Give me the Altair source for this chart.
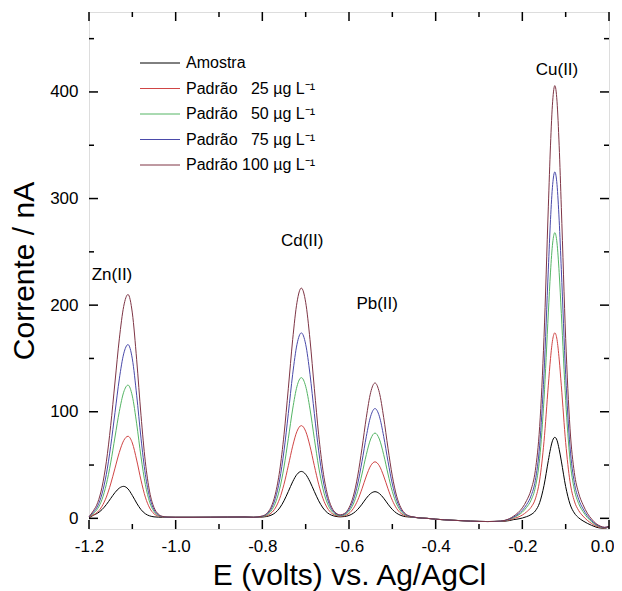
import altair as alt
import pandas as pd

# Potential (V vs Ag/AgCl)
E = [-1.20, -1.19, -1.18, -1.17, -1.16, -1.15, -1.14, -1.13, -1.12, -1.11,
     -1.10, -1.09, -1.08, -1.07, -1.06, -1.05, -1.04, -1.03, -1.02, -1.00,
     -0.96, -0.92, -0.88, -0.84,
     -0.82, -0.80, -0.79, -0.78, -0.77, -0.76, -0.75, -0.74, -0.73, -0.72,
     -0.71, -0.70, -0.69, -0.68, -0.67, -0.66, -0.65, -0.64, -0.63,
     -0.62, -0.61, -0.60, -0.59, -0.58, -0.57, -0.56, -0.55, -0.54, -0.53,
     -0.52, -0.51, -0.50, -0.49, -0.48, -0.47, -0.46, -0.45, -0.44,
     -0.42, -0.40, -0.36, -0.32, -0.28, -0.25, -0.23,
     -0.22, -0.21, -0.20, -0.19, -0.18, -0.17, -0.16, -0.15, -0.14, -0.135,
     -0.13, -0.125, -0.12, -0.115, -0.11, -0.10, -0.09, -0.08, -0.07, -0.06,
     -0.05, -0.04, -0.03, -0.02, -0.01, 0.00]

# Current (nA)
amostra = [0.5, 2.9, 4.9, 8.2, 12.9, 18.6, 24.2, 28.4, 30.0, 27.6,
           21.5, 14.3, 8.2, 4.3, 2.3, 1.4, 1.1, 1.0, 1.0, 1.0,
           1.0, 1.0, 1.1, 1.1,
           1.0, 1.2, 1.7, 2.9, 5.3, 9.7, 16.5, 25.2, 34.3, 41.3,
           44.0, 41.3, 34.3, 25.2, 16.5, 9.7, 5.3, 2.9, 1.8,
           1.4, 1.7, 2.7, 4.8, 8.3, 13.3, 18.9, 23.3, 25.0, 23.3,
           18.9, 13.3, 8.3, 4.8, 2.7, 1.6, 1.2, 0.9, 0.5,
           0.0, -0.8, -1.8, -2.6, -3.0, -2.9, -2.1,
           -1.2, -0.6, 0.3, 1.6, 3.5, 7.0, 14.8, 30.8, 54.2, 65.3,
           73.2, 76.0, 73.2, 64.8, 53.7, 29.8, 13.4, 5.0, 0.5, -2.4,
           -4.7, -6.6, -8.2, -9.1, -9.3, -7.9]

p25 = [1.0, 3.2, 6.0, 11.3, 19.9, 32.2, 47.1, 61.9, 72.9, 77.0,
       70.7, 54.7, 35.8, 19.9, 9.7, 4.3, 2.1, 1.3, 1.1, 1.0,
       1.0, 1.1, 1.2, 1.3,
       1.0, 1.5, 2.5, 4.8, 9.7, 18.5, 32.0, 49.4, 67.7, 81.7,
       87.0, 81.7, 67.7, 49.4, 32.0, 18.5, 9.7, 4.8, 2.6,
       2.0, 2.5, 4.6, 9.2, 16.9, 27.7, 39.7, 49.3, 53.0, 49.3,
       39.7, 27.7, 16.9, 9.2, 4.6, 2.4, 1.5, 1.0, 0.5,
       0.0, -0.8, -1.8, -2.6, -3.0, -2.8, -1.5,
       -0.2, 1.1, 3.1, 6.1, 10.3, 18.2, 36.0, 72.1, 124.9, 149.9,
       167.7, 174.0, 167.7, 149.4, 124.4, 71.1, 34.5, 16.2, 7.3, 2.1,
       -1.9, -4.9, -7.2, -8.6, -9.0, -7.8]

p50 = [1.2, 4.5, 9.1, 17.7, 31.9, 52.0, 76.3, 100.3, 118.3, 125.0,
       114.7, 88.7, 57.8, 31.9, 15.1, 6.4, 2.8, 1.5, 1.1, 1.0,
       1.0, 1.1, 1.2, 1.3,
       1.0, 1.7, 3.2, 6.8, 14.2, 27.6, 48.2, 74.8, 102.5, 123.9,
       132.0, 123.9, 102.5, 74.8, 48.2, 27.6, 14.2, 6.8, 3.4,
       2.4, 3.3, 6.6, 13.4, 25.2, 41.6, 59.8, 74.4, 80.0, 74.4,
       59.8, 41.6, 25.2, 13.4, 6.5, 3.1, 1.7, 1.0, 0.5,
       0.0, -0.8, -1.8, -2.6, -3.0, -2.6, -1.0,
       0.7, 2.8, 5.8, 10.4, 16.9, 29.1, 56.3, 111.7, 192.7, 231.0,
       258.3, 268.0, 258.3, 230.5, 192.2, 110.7, 54.8, 27.1, 13.9, 6.4,
       0.8, -3.2, -6.3, -8.0, -8.8, -7.6]

p75 = [1.4, 5.6, 11.6, 22.9, 41.3, 67.6, 99.3, 130.8, 154.3, 163.0,
       149.6, 115.5, 75.2, 41.3, 19.5, 8.1, 3.3, 1.6, 1.1, 1.0,
       1.0, 1.1, 1.2, 1.3,
       1.0, 2.0, 3.9, 8.6, 18.5, 36.1, 63.3, 98.4, 135.1, 163.3,
       174.0, 163.3, 135.1, 98.4, 63.3, 36.1, 18.5, 8.6, 4.2,
       2.9, 4.0, 8.2, 17.0, 32.2, 53.4, 76.9, 95.8, 103.0, 95.8,
       76.9, 53.4, 32.2, 17.0, 8.1, 3.7, 1.9, 1.1, 0.5,
       0.0, -0.8, -1.8, -2.6, -3.0, -2.6, -0.7,
       1.3, 3.8, 7.5, 13.0, 20.9, 35.6, 68.6, 135.7, 233.8, 280.2,
       313.2, 325.0, 313.2, 279.7, 233.3, 134.7, 67.1, 33.6, 17.9, 9.0,
       2.5, -2.2, -5.7, -7.7, -8.6, -7.6]

p100 = [1.6, 7.0, 14.7, 29.2, 53.0, 86.9, 127.9, 168.4, 198.7, 210.0,
        192.7, 148.8, 96.7, 53.0, 24.8, 10.2, 4.0, 1.8, 1.2, 1.0,
        1.0, 1.1, 1.2, 1.3,
        1.0, 2.2, 4.6, 10.4, 22.7, 44.6, 78.4, 122.0, 167.6, 202.7,
        216.0, 202.7, 167.6, 122.0, 78.4, 44.6, 22.7, 10.4, 4.9,
        3.3, 4.7, 9.9, 20.8, 39.6, 65.8, 94.7, 118.1, 127.0, 118.1,
        94.7, 65.8, 39.6, 20.8, 9.8, 4.4, 2.1, 1.2, 0.5,
        0.0, -0.8, -1.8, -2.6, -3.0, -2.5, -0.3,
        2.1, 5.3, 9.8, 16.8, 26.6, 44.9, 86.1, 169.8, 292.2, 350.1,
        391.3, 406.0, 391.3, 349.6, 291.7, 168.8, 84.6, 42.9, 23.6, 12.8,
        4.8, -0.7, -4.9, -7.3, -8.4, -7.5]

series = ["Amostra",
          "Padrão \u200725 \u00b5g L\u207b\u00b9",
          "Padrão \u200750 \u00b5g L\u207b\u00b9",
          "Padrão \u200775 \u00b5g L\u207b\u00b9",
          "Padrão 100 \u00b5g L\u207b\u00b9"]
values = [amostra, p25, p50, p75, p100]
colors = ["#000000", "#d04545", "#55b565", "#4a4aaa", "#7e3545"]

peak_names = ["Zn(II)", "Cd(II)", "Pb(II)", "Cu(II)"]
peak_E = [-1.147, -0.708, -0.535, -0.12]
peak_I = [228, 260, 201, 421]

x_major = [-1.2, -1.0, -0.8, -0.6, -0.4, -0.2, 0.0]
x_minor = [-1.1, -0.9, -0.7, -0.5, -0.3, -0.1]
y_major = [0, 100, 200, 300, 400]
y_minor = [50, 150, 250, 350, 450]

W, H = 520, 517
FONT = "Liberation Sans"

rows = []
for name, vals in zip(series, values):
    for e, i in zip(E, vals):
        rows.append({"E": e, "I": i, "s": name})
df = pd.DataFrame(rows)

xs = alt.Scale(domain=[-1.2, 0.0], nice=False, zero=False)
ys = alt.Scale(domain=[-10, 475], nice=False, zero=False)

lines = alt.Chart(df).mark_line(strokeWidth=1, interpolate="monotone").encode(
    x=alt.X("E:Q", scale=xs,
            axis=alt.Axis(values=x_major,
                          labelExpr="replace(format(datum.value, '.1f'), '\u2212', '-')",
                          title="E (volts) vs. Ag/AgCl", labelFlush=False,
                          labelAlign=alt.condition("datum.value == 0",
                                                   alt.value("right"), alt.value("center")),
                          labelOffset=alt.condition("datum.value == 0",
                                                    alt.value(5), alt.value(0)),
                          labelFontSize=17, titleFontSize=30, labelPadding=9,
                          titlePadding=6, labelFont=FONT, titleFont=FONT,
                          titleFontWeight="normal", ticks=False, domain=False,
                          grid=False, labelColor="black", titleColor="black")),
    y=alt.Y("I:Q", scale=ys,
            axis=alt.Axis(values=y_major, title="Corrente / nA", labelFlush=False,
                          labelFontSize=17, titleFontSize=30, labelPadding=11,
                          titlePadding=10, labelFont=FONT, titleFont=FONT,
                          titleFontWeight="normal", ticks=False, domain=False,
                          grid=False, labelColor="black", titleColor="black")),
    color=alt.Color("s:N", scale=alt.Scale(domain=series, range=colors), legend=None),
)

layers = [lines]

def xticks(vals, length):
    d = pd.DataFrame({"v": vals})
    bot = alt.Chart(d).mark_rule(color="black", strokeWidth=1.5).encode(
        x=alt.X("v:Q", scale=xs), y=alt.value(H), y2=alt.value(H - length))
    top = alt.Chart(d).mark_rule(color="black", strokeWidth=1.5).encode(
        x=alt.X("v:Q", scale=xs), y=alt.value(0), y2=alt.value(length))
    return [bot, top]

def yticks(vals, length):
    d = pd.DataFrame({"v": vals})
    left = alt.Chart(d).mark_rule(color="black", strokeWidth=1.5).encode(
        y=alt.Y("v:Q", scale=ys), x=alt.value(0), x2=alt.value(length))
    right = alt.Chart(d).mark_rule(color="black", strokeWidth=1.5).encode(
        y=alt.Y("v:Q", scale=ys), x=alt.value(W), x2=alt.value(W - length))
    return [left, right]

layers += xticks(x_major, 9) + xticks(x_minor, 5) + yticks(y_major, 9) + yticks(y_minor, 5)

peaks = alt.Chart(pd.DataFrame({"E": peak_E, "I": peak_I, "t": peak_names})).mark_text(
    fontSize=17, font=FONT, color="black", align="center", baseline="middle"
).encode(x=alt.X("E:Q", scale=xs), y=alt.Y("I:Q", scale=ys), text="t:N")
layers.append(peaks)

for k, (name, col) in enumerate(zip(series, colors)):
    yy = 51 + 25.5 * k
    d = pd.DataFrame({"t": [name]})
    layers.append(alt.Chart(d).mark_rule(color=col, strokeWidth=1).encode(
        x=alt.value(51), x2=alt.value(91), y=alt.value(yy)))
    layers.append(alt.Chart(d).mark_text(
        align="left", baseline="middle", fontSize=16, font=FONT, color="black"
    ).encode(x=alt.value(97), y=alt.value(yy), text="t:N"))

chart = alt.layer(*layers).properties(
    width=W, height=H,
    autosize=alt.AutoSizeParams(type="none"),
    padding={"left": 81, "top": 4, "right": 5, "bottom": 62},
).configure_view(stroke="black", strokeWidth=2).configure(background="white")

chart.save("out.html", embed_options={"renderer": "svg", "actions": False})
